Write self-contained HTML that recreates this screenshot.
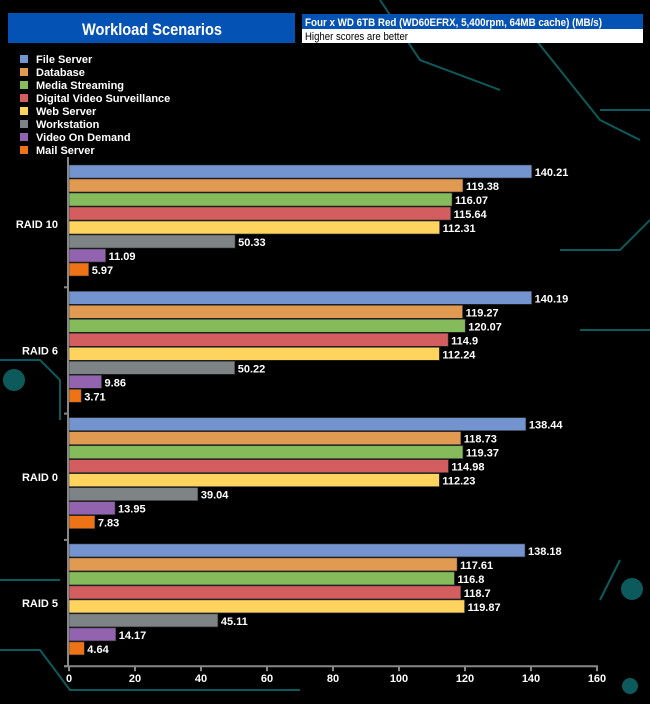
<!DOCTYPE html>
<html><head><meta charset="utf-8"><style>
body{margin:0;background:#000;width:650px;height:704px;overflow:hidden;font-family:"Liberation Sans",Arial,sans-serif}
svg{display:block}
</style></head><body>
<svg width="650" height="704">
<g stroke="#0c5a5c" stroke-width="2" fill="none">
<path d="M0,360 L40,360 L60,380 L60,420"/><path d="M0,580 L60,580"/><path d="M0,650 L40,650 L70,690 L300,690"/>
<path d="M600,110 L650,110"/><path d="M580,330 L650,330"/><path d="M560,250 L620,250 L650,220"/>
<path d="M520,20 L600,120 L640,140"/><path d="M380,0 L420,60 L500,90"/>
<circle cx="632" cy="589" r="10" fill="#0c5a5c"/><circle cx="630" cy="686" r="7" fill="#0c5a5c"/>
<circle cx="14" cy="380" r="10" fill="#0c5a5c"/><path d="M600,600 L620,560"/>
</g>
<rect x="8" y="13" width="287" height="30" fill="#0552b5"/>
<text x="152" y="35" fill="#fff" font-size="17" font-weight="bold" text-anchor="middle" textLength="140" lengthAdjust="spacingAndGlyphs">Workload Scenarios</text>
<rect x="302" y="14" width="341" height="15" fill="#0552b5"/>
<text x="305" y="26" fill="#fff" font-size="11" font-weight="bold" textLength="297" lengthAdjust="spacingAndGlyphs">Four x WD 6TB Red (WD60EFRX, 5,400rpm, 64MB cache) (MB/s)</text>
<rect x="302" y="29" width="341" height="14" fill="#fff"/>
<text x="305" y="40" fill="#000" font-size="11" textLength="103" lengthAdjust="spacingAndGlyphs">Higher scores are better</text>
<g id="legend"></g>
<g id="plot"></g>
</svg>
<script>
const series=["File Server","Database","Media Streaming","Digital Video Surveillance","Web Server","Workstation","Video On Demand","Mail Server"];
const colors=["#7494cf","#e09a52","#86bb5c","#d45d5f","#fed35e","#7e8485","#9263ae","#ee7316"];
const categories=["RAID 10","RAID 6","RAID 0","RAID 5"];
const fileServer=[140.21,140.19,138.44,138.18];
const database=[119.38,119.27,118.73,117.61];
const mediaStreaming=[116.07,120.07,119.37,116.8];
const dvs=[115.64,114.9,114.98,118.7];
const webServer=[112.31,112.24,112.23,119.87];
const workstation=[50.33,50.22,39.04,45.11];
const vod=[11.09,9.86,13.95,14.17];
const mail=[5.97,3.71,7.83,4.64];
const ticks=[0,20,40,60,80,100,120,140,160];
const allSeries=[fileServer,database,mediaStreaming,dvs,webServer,workstation,vod,mail];
const NS="http://www.w3.org/2000/svg";
function mk(t,a,p){const e=document.createElementNS(NS,t);for(const k in a)e.setAttribute(k,a[k]);p.appendChild(e);return e;}
const x0=69,x1=597,plotTop=161,gp=126.3,bot=plotTop+gp*categories.length;
const xs=v=>x0+(v-0)/(160-0)*(x1-x0);
const lg=document.getElementById('legend');
series.forEach((s,i)=>{
 const r=mk('rect',{x:20,y:55+i*13,width:8,height:8,fill:colors[i]},lg);
 
 
 const t=mk('text',{x:36,y:63+i*13,fill:'#fff','font-size':11,'font-weight':'bold'},lg);
 t.textContent=s;
 
 
});
const pl=document.getElementById('plot');
categories.forEach((c,g)=>{
 const gy=plotTop+g*gp;
 allSeries.forEach((arr,i)=>{
  const y=gy+4+i*14,v=arr[g];
  const r=mk('rect',{x:x0,y:y,width:xs(v)-x0,height:13,fill:colors[i],stroke:'#333','stroke-width':0.6},pl);
  
  
  const t=mk('text',{x:xs(v)+3,y:y+11,fill:'#fff','font-size':11,'font-weight':'bold'},pl);
  t.textContent=String(v);
  
  
 });
 const l=mk('text',{x:58,y:gy+gp/2+4,fill:'#fff','font-size':11,'font-weight':'bold','text-anchor':'end'},pl);
 l.textContent=c;
 
 
 const tk=mk('line',{x1:64,x2:69,y1:gy+gp,y2:gy+gp,stroke:'#888','stroke-width':2},pl);
 
 
});
const ya=mk('line',{x1:68,x2:68,y1:plotTop-4,y2:bot,stroke:'#888','stroke-width':2},pl);


const xa=mk('line',{x1:64,x2:x1+1,y1:bot,y2:bot,stroke:'#888','stroke-width':2},pl);


ticks.forEach(v=>{
 const tl=mk('line',{x1:xs(v),x2:xs(v),y1:bot,y2:bot+5,stroke:'#888','stroke-width':2},pl);
 
 
 const t=mk('text',{x:xs(v),y:bot+16,fill:'#fff','font-size':11,'font-weight':'bold','text-anchor':'middle'},pl);
 t.textContent=v;
 
 
});
</script>
</body></html>
